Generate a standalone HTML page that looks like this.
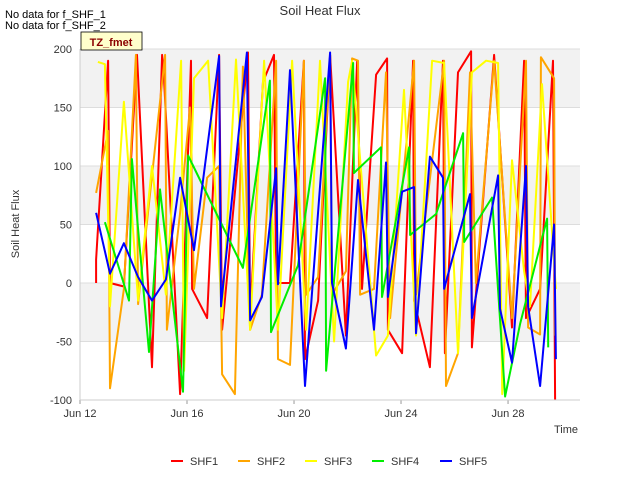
<!DOCTYPE html>
<html><head><meta charset="utf-8"><style>
body{margin:0;background:#fff;font-family:"Liberation Sans",sans-serif;}
svg text{font-family:"Liberation Sans",sans-serif;}
</style></head><body>
<svg id="chart" width="640" height="480">
<rect x="0" y="0" width="640" height="480" fill="#fff"/>
<g id="bands"></g>
<g id="series"></g>
<g id="axes"></g>
<text x="320" y="15" text-anchor="middle" font-size="13" fill="#333">Soil Heat Flux</text>
<text x="5" y="18" font-size="11" fill="#000">No data for f_SHF_1</text>
<text x="5" y="29" font-size="11" fill="#000">No data for f_SHF_2</text>
<g><rect x="81" y="32" width="61" height="18" fill="#ffffcc" stroke="#000" stroke-width="0.8"/><text x="111" y="46" text-anchor="middle" font-size="11" font-weight="bold" fill="#8b0000">TZ_fmet</text></g>
<text x="19" y="224" text-anchor="middle" font-size="11" fill="#333" transform="rotate(-90 19 224)">Soil Heat Flux</text>
<text x="578" y="433" text-anchor="end" font-size="11" fill="#333">Time</text>
<g id="legend"></g>
</svg>
<script>
const NS="http://www.w3.org/2000/svg";
const yTicks=[-100,-50,0,50,100,150,200];
const xTickDays=[0,4,8,12,16];
const xTickLabels=["Jun 12","Jun 16","Jun 20","Jun 24","Jun 28"];
const seriesNames=["SHF1","SHF2","SHF3","SHF4","SHF5"];
const seriesColors=["#ff0000","#ffa500","#ffff00","#00ee00","#0000ff"];
const shf1Days=[0.60,0.60,1.05,1.12,1.64,2.13,2.69,3.07,3.14,3.74,4.15,4.19,4.75,5.20,5.31,6.28,6.36,6.84,7.25,7.33,7.85,8.37,8.41,8.90,9.35,9.94,10.36,10.54,11.07,11.48,11.51,12.04,12.45,12.49,13.08,13.57,13.64,14.13,14.62,14.65,15.48,16.15,16.60,16.67,17.20,17.68,17.76];
const shf1Vals=[0,20,190,0,-3,195,-72,195,175,-95,190,-5,-30,195,-40,197,-28,172,195,0,0,190,-65,-15,195,-45,190,-5,178,192,-40,-60,190,-15,-72,190,-60,180,198,-55,195,-38,190,-30,-5,190,-100];
const shf2Days=[0.60,1.05,1.12,1.64,2.09,2.17,3.18,3.25,3.74,4.11,4.26,4.75,5.20,5.31,5.79,6.09,6.36,6.80,7.33,7.40,7.85,8.37,8.45,8.90,9.35,9.42,9.94,10.17,10.39,10.47,10.99,11.44,11.59,12.49,12.56,13.61,13.68,14.13,14.58,14.80,15.48,16.15,16.67,16.75,17.20,17.23,17.72,17.76];
const shf2Vals=[77,130,-90,-5,195,-18,195,-40,60,150,-5,90,100,-78,-95,185,-40,-10,190,-65,-70,190,-10,5,195,-10,10,192,190,-10,-5,180,-30,190,-10,190,-88,-60,180,0,190,-30,190,-38,-44,193,175,-45];
const shf3Days=[0.67,0.93,1.12,1.64,2.17,2.69,3.21,3.78,3.89,4.26,4.79,5.31,5.83,6.36,6.88,7.40,7.93,8.45,8.97,9.50,10.02,10.17,11.07,11.51,12.11,12.56,13.16,13.61,14.13,14.65,15.18,15.63,15.78,16.15,16.60,16.82,17.27,17.79];
const shf3Vals=[189,187,-20,155,-15,100,-10,190,-75,175,190,-30,191,-40,190,-40,190,-40,190,-50,172,190,-62,-45,165,-45,190,188,-60,180,190,188,-95,105,10,-20,170,-5];
const shf4Days=[0.93,1.83,1.94,2.58,2.99,3.85,4.04,6.09,7.10,7.14,8.15,9.16,9.20,10.21,10.24,11.25,11.29,12.30,12.34,13.31,14.32,14.36,15.40,15.89,16.45,17.46,17.50];
const shf4Vals=[52,-15,106,-59,80,-93,109,13,173,-42,15,175,-75,188,94,116,-12,116,41,59,128,35,73,-97,-35,55,-55];
const shf5Days=[0.60,1.12,1.64,2.17,2.69,3.21,3.74,4.26,5.20,5.27,6.24,6.36,6.80,7.33,7.40,7.85,8.41,9.35,9.42,9.94,10.39,10.99,11.44,11.51,12.04,12.49,12.56,13.08,13.57,13.61,14.58,14.65,15.63,15.70,16.15,16.67,16.75,17.20,17.72,17.79];
const shf5Vals=[60,8,34,5,-15,3,90,28,194,-20,197,-32,-12,98,-1,182,-88,197,0,-56,88,-40,103,-12,78,82,-43,108,90,-5,76,-30,92,-22,-68,100,-20,-88,50,-65];
const allDays=[shf1Days,shf2Days,shf3Days,shf4Days,shf5Days];
const allVals=[shf1Vals,shf2Vals,shf3Vals,shf4Vals,shf5Vals];

const L=80,R=580,T=49,B=400,yMin=-100,yMax=200,dMin=0,dMax=18.69;
const sx=d=>L+(d-dMin)/(dMax-dMin)*(R-L);
const sy=v=>B-(v-yMin)/(yMax-yMin)*(B-T);
function mk(tag,attrs,parent){const e=document.createElementNS(NS,tag);for(const k in attrs)e.setAttribute(k,attrs[k]);parent.appendChild(e);return e;}
const bands=document.getElementById('bands');
for(let i=0;i<yTicks.length-1;i++){
  const lo=yTicks[i],hi=yTicks[i+1];
  const r=mk('rect',{x:L,y:sy(hi),width:R-L,height:sy(lo)-sy(hi),fill:(i%2===1)?'#f2f2f2':'#ffffff'},bands);
  
  
}
const axes=document.getElementById('axes');
yTicks.forEach(v=>{
  const ln=mk('line',{x1:L,x2:R,y1:sy(v),y2:sy(v),stroke:'#dddddd','stroke-width':1},bands);
  
  
  const t=mk('text',{x:L-8,y:sy(v)+4,'text-anchor':'end','font-size':11,fill:'#333'},axes);
  t.textContent=v;
  
  
});
xTickDays.forEach((d,i)=>{
  const tk=mk('line',{x1:sx(d),x2:sx(d),y1:B,y2:B+4,stroke:'#999'},axes);
  
  
  const t=mk('text',{x:sx(d),y:B+17,'text-anchor':'middle','font-size':11,fill:'#333'},axes);
  t.textContent=xTickLabels[i];
  
  
});
const axl=mk('line',{x1:L,x2:L,y1:T,y2:B,stroke:'#cccccc'},axes);


const axb=mk('line',{x1:L,x2:R,y1:B,y2:B,stroke:'#cccccc'},axes);


const sg=document.getElementById('series');
allDays.forEach((days,s)=>{
  const pts=days.map((d,i)=>sx(d).toFixed(1)+','+sy(allVals[s][i]).toFixed(1)).join(' ');
  const p=mk('polyline',{points:pts,fill:'none',stroke:seriesColors[s],'stroke-width':2,'stroke-linejoin':'round'},sg);
  
  
});
const lg=document.getElementById('legend');
const lx=[171,238,305,372,440];
seriesNames.forEach((n,i)=>{
  const l=mk('line',{x1:lx[i],x2:lx[i]+12,y1:461,y2:461,stroke:seriesColors[i],'stroke-width':2},lg);
  
  
  const t=mk('text',{x:lx[i]+19,y:465,'font-size':11,fill:'#333'},lg);
  t.textContent=n;
  
  
});
</script>
</body></html>
